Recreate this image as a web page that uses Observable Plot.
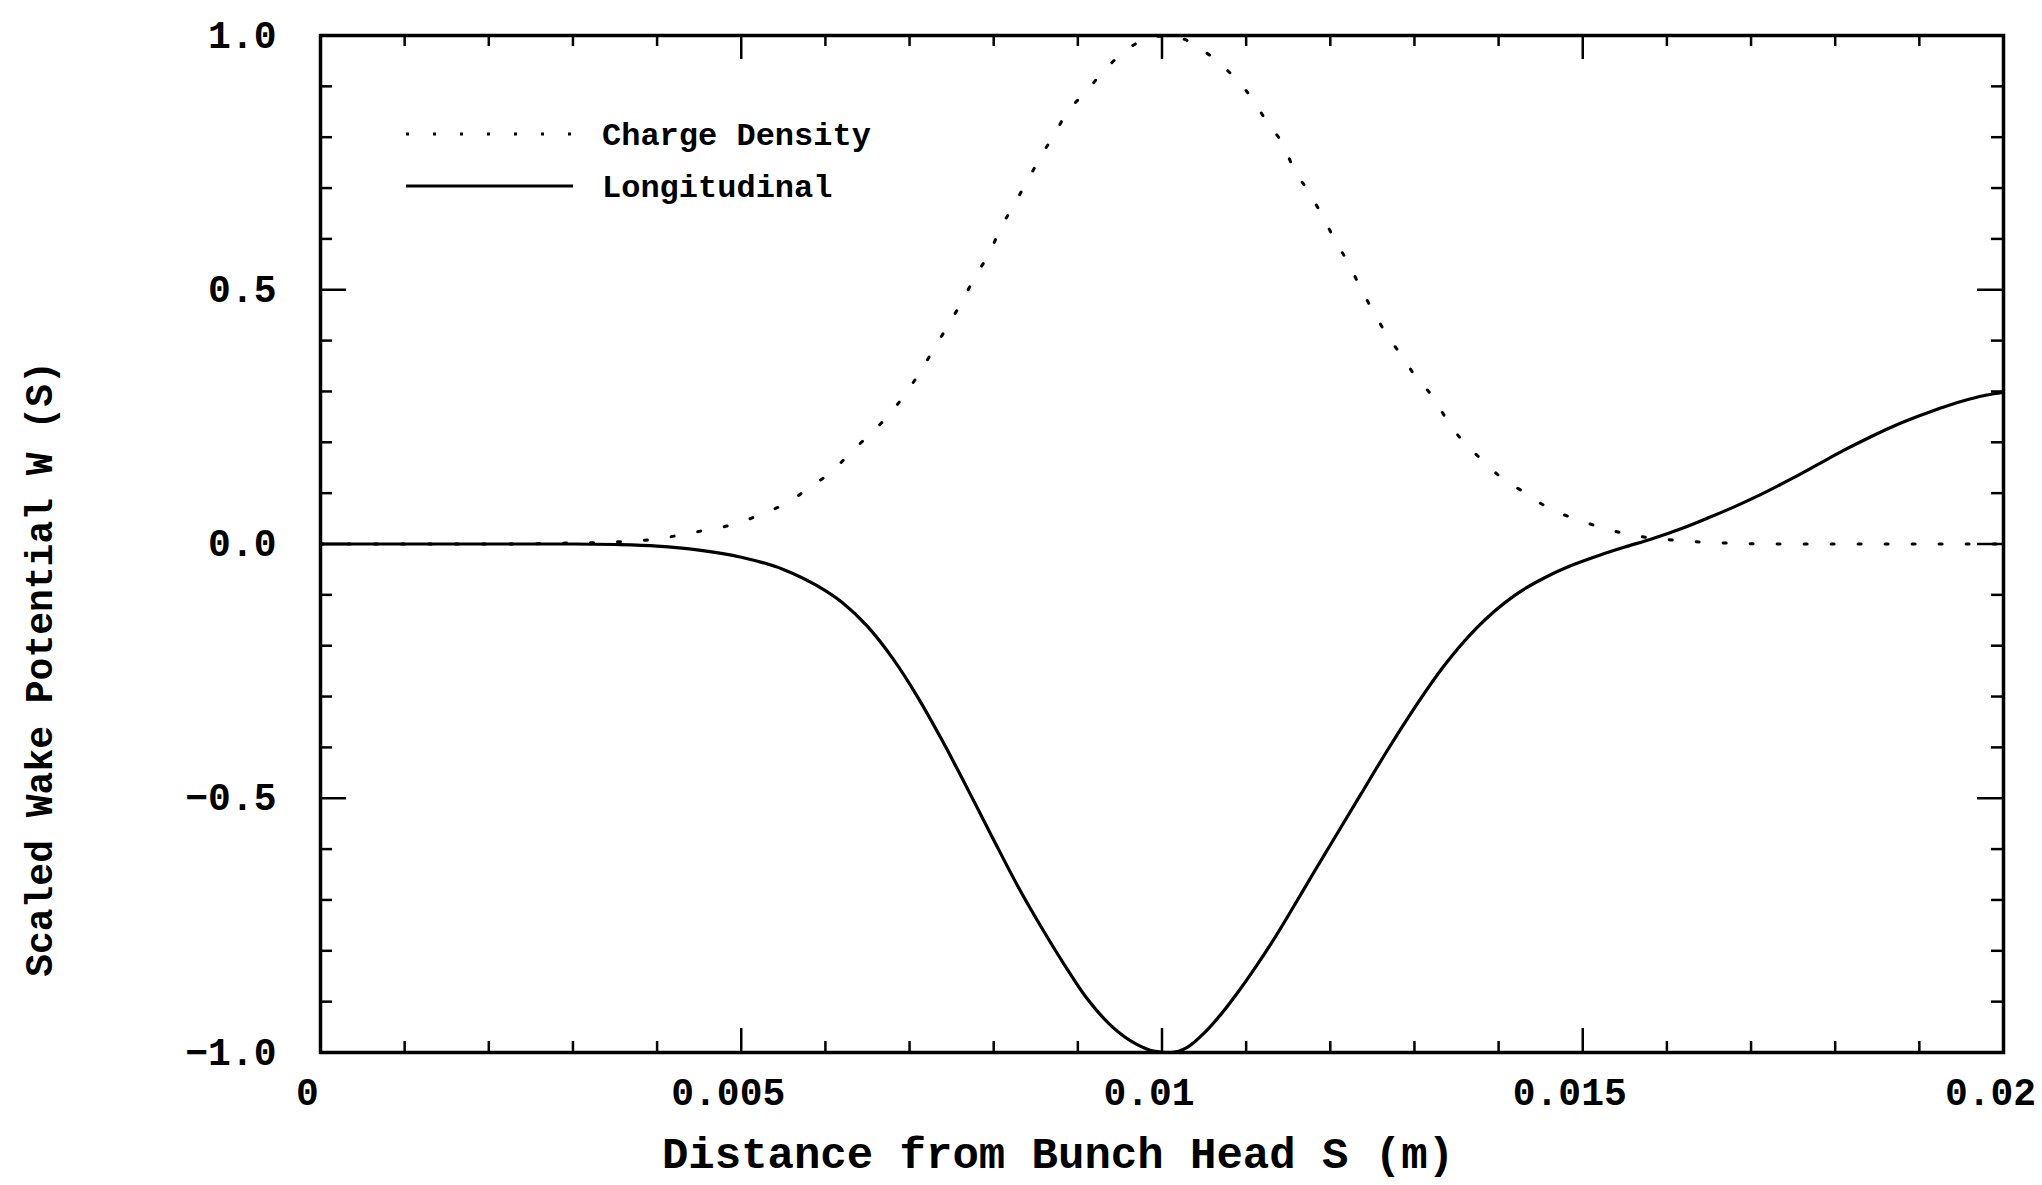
<!DOCTYPE html>
<html><head><meta charset="utf-8">
<script src="https://cdn.jsdelivr.net/npm/d3@7"></script>
<script src="https://cdn.jsdelivr.net/npm/@observablehq/plot@0.6"></script>
<style>
html,body{margin:0;padding:0;background:#fff;}
#chart{position:relative;width:2042px;height:1185px;}
#legend{position:absolute;left:0;top:0;}
</style></head><body><div id="chart"></div>
<script>
// Longitudinal wake potential
const sLong = [0, 0.001, 0.002, 0.003, 0.0035, 0.004, 0.0045, 0.005, 0.0055, 0.0059, 0.0062, 0.0065, 0.0068, 0.0071, 0.0074, 0.0077, 0.008, 0.0083, 0.0086, 0.00885, 0.0091, 0.0094, 0.0097, 0.0099, 0.0101, 0.0103, 0.0105, 0.0107, 0.0109, 0.0111, 0.0113, 0.0116, 0.0118, 0.012, 0.01236, 0.01267, 0.01297, 0.01335, 0.01374, 0.0142, 0.0146, 0.0149, 0.0152, 0.0155, 0.0158, 0.0162, 0.0165, 0.0168, 0.0171, 0.0175, 0.0178, 0.0181, 0.0184, 0.0187, 0.019, 0.0193, 0.0196, 0.0198, 0.02];
const wLong = [0, 0, 0, 0, -0.001, -0.004, -0.012, -0.026, -0.05, -0.082, -0.115, -0.162, -0.225, -0.302, -0.39, -0.485, -0.582, -0.677, -0.763, -0.83, -0.892, -0.948, -0.984, -0.997, -1.0, -0.99, -0.962, -0.925, -0.882, -0.835, -0.785, -0.703, -0.647, -0.592, -0.493, -0.408, -0.33, -0.24, -0.165, -0.10, -0.062, -0.04, -0.022, -0.006, 0.009, 0.032, 0.052, 0.073, 0.096, 0.13, 0.157, 0.184, 0.209, 0.232, 0.252, 0.27, 0.285, 0.293, 0.298];
// Charge density
const sCharge = [0, 0.002, 0.003, 0.0035, 0.004, 0.00415, 0.0046, 0.0049, 0.0053, 0.00555, 0.0058, 0.0061, 0.0063, 0.00653, 0.00675, 0.00694, 0.00712, 0.00729, 0.00745, 0.00761, 0.00778, 0.00795, 0.00808, 0.00824, 0.0084, 0.00855, 0.00871, 0.00887, 0.0091, 0.0093, 0.00952, 0.0097, 0.0099, 0.0101, 0.0103, 0.01045, 0.01063, 0.01088, 0.01108, 0.01125, 0.01144, 0.01156, 0.01174, 0.01191, 0.01206, 0.01222, 0.01237, 0.01252, 0.01268, 0.01285, 0.01301, 0.01321, 0.01338, 0.01357, 0.0138, 0.0140, 0.01431, 0.01459, 0.0149, 0.01521, 0.01551, 0.0158, 0.01614, 0.0165, 0.0169, 0.0175, 0.02];
const qCharge = [0, 0, 0.002, 0.004, 0.01, 0.014, 0.028, 0.038, 0.063, 0.081, 0.11, 0.146, 0.18, 0.216, 0.253, 0.293, 0.337, 0.384, 0.428, 0.473, 0.526, 0.573, 0.62, 0.667, 0.714, 0.759, 0.803, 0.848, 0.89, 0.929, 0.964, 0.985, 0.998, 0.999, 0.99, 0.975, 0.953, 0.914, 0.874, 0.829, 0.785, 0.74, 0.693, 0.644, 0.596, 0.551, 0.5, 0.455, 0.409, 0.37, 0.33, 0.291, 0.246, 0.203, 0.166, 0.135, 0.101, 0.071, 0.05, 0.033, 0.02, 0.012, 0.007, 0.003, 0.001, 0, 0];

const xMajor = [0, 0.005, 0.01, 0.015, 0.02];
const xTickLabels = ["0", "0.005", "0.01", "0.015", "0.02"];
const xMinor = [0.001, 0.002, 0.003, 0.004, 0.006, 0.007, 0.008, 0.009, 0.011, 0.012, 0.013, 0.014, 0.016, 0.017, 0.018, 0.019];
const yMajor = [-1, -0.5, 0, 0.5, 1];
const yTickLabels = ["\u22121.0", "\u22120.5", "0.0", "0.5", "1.0"];
const yMinor = [-0.9, -0.8, -0.7, -0.6, -0.4, -0.3, -0.2, -0.1, 0.1, 0.2, 0.3, 0.4, 0.6, 0.7, 0.8, 0.9];
const seriesNames = ["Charge Density", "Longitudinal"];
const xLabel = "Distance from Bunch Head S (m)";
const yLabel = "Scaled Wake Potential W (S)";

const longi = sLong.map((s, i) => ({s, w: wLong[i]}));
const charge = sCharge.map((s, i) => ({s, q: qCharge[i]}));

const W = 2042, H = 1185, mL = 320, mR = 39, mT = 35, mB = 133;
const innerH = H - mT - mB, innerW = W - mL - mR;
const font = "'Liberation Mono', 'DejaVu Sans Mono', monospace";

const plot = Plot.plot({
  width: W, height: H,
  marginLeft: mL, marginRight: mR, marginTop: mT, marginBottom: mB,
  style: {fontFamily: font, fontWeight: "bold", background: "white", color: "black"},
  x: {domain: [0, 0.02]},
  y: {domain: [-1, 1]},
  marks: [
    Plot.line(charge, {x: "s", y: "q", stroke: "black", strokeWidth: 3, strokeDasharray: "3,24", curve: "monotone-x"}),
    Plot.line(longi, {x: "s", y: "w", stroke: "black", strokeWidth: 3.2, curve: "monotone-x"}),
    Plot.tickX(xMajor, {x: d => d, insetTop: innerH - 24, strokeWidth: 2.5}),
    Plot.tickX(xMajor, {x: d => d, insetBottom: innerH - 24, strokeWidth: 2.5}),
    Plot.tickX(xMinor, {x: d => d, insetTop: innerH - 11, strokeWidth: 2.5}),
    Plot.tickX(xMinor, {x: d => d, insetBottom: innerH - 11, strokeWidth: 2.5}),
    Plot.tickY(yMajor, {y: d => d, insetRight: innerW - 26, strokeWidth: 2.5}),
    Plot.tickY(yMajor, {y: d => d, insetLeft: innerW - 26, strokeWidth: 2.5}),
    Plot.tickY(yMinor, {y: d => d, insetRight: innerW - 12, strokeWidth: 2.5}),
    Plot.tickY(yMinor, {y: d => d, insetLeft: innerW - 12, strokeWidth: 2.5}),
    Plot.frame({stroke: "black", strokeWidth: 3.5}),
    Plot.axisX({ticks: xMajor, tickSize: 0, tickPadding: 26, fontSize: 38, label: null, dx: -13,
      tickFormat: d => xTickLabels[xMajor.indexOf(d)]}),
    Plot.axisY({ticks: yMajor, tickSize: 0, tickPadding: 44, fontSize: 38, label: null,
      tickFormat: d => yTickLabels[yMajor.indexOf(d)]}),
    Plot.text([xLabel], {frameAnchor: "bottom", dx: -104, dy: 101, fontSize: 44, lineAnchor: "middle"})
  ]
});

const chart = document.getElementById("chart");
chart.appendChild(plot);

// Legend and y-axis title overlay
const leg = d3.create("svg").attr("id", "legend").attr("width", W).attr("height", H)
  .style("font-family", font).style("font-weight", "bold").style("pointer-events", "none");
const rows = [
  {name: seriesNames[0], y: 134, dash: "3,24"},
  {name: seriesNames[1], y: 186, dash: null}
];
rows.forEach(r => {
  leg.append("line").attr("x1", 406).attr("x2", 573).attr("y1", r.y).attr("y2", r.y)
    .attr("stroke", "black").attr("stroke-width", 3).attr("stroke-dasharray", r.dash);
  leg.append("text").attr("x", 602).attr("y", r.y).attr("dy", "0.35em")
    .attr("font-size", 32).text(r.name);
});
leg.append("text").attr("transform", "translate(39,669) rotate(-90)")
  .attr("text-anchor", "middle").attr("dy", "0.35em").attr("font-size", 38).text(yLabel);
chart.appendChild(leg.node());
</script></body></html>
